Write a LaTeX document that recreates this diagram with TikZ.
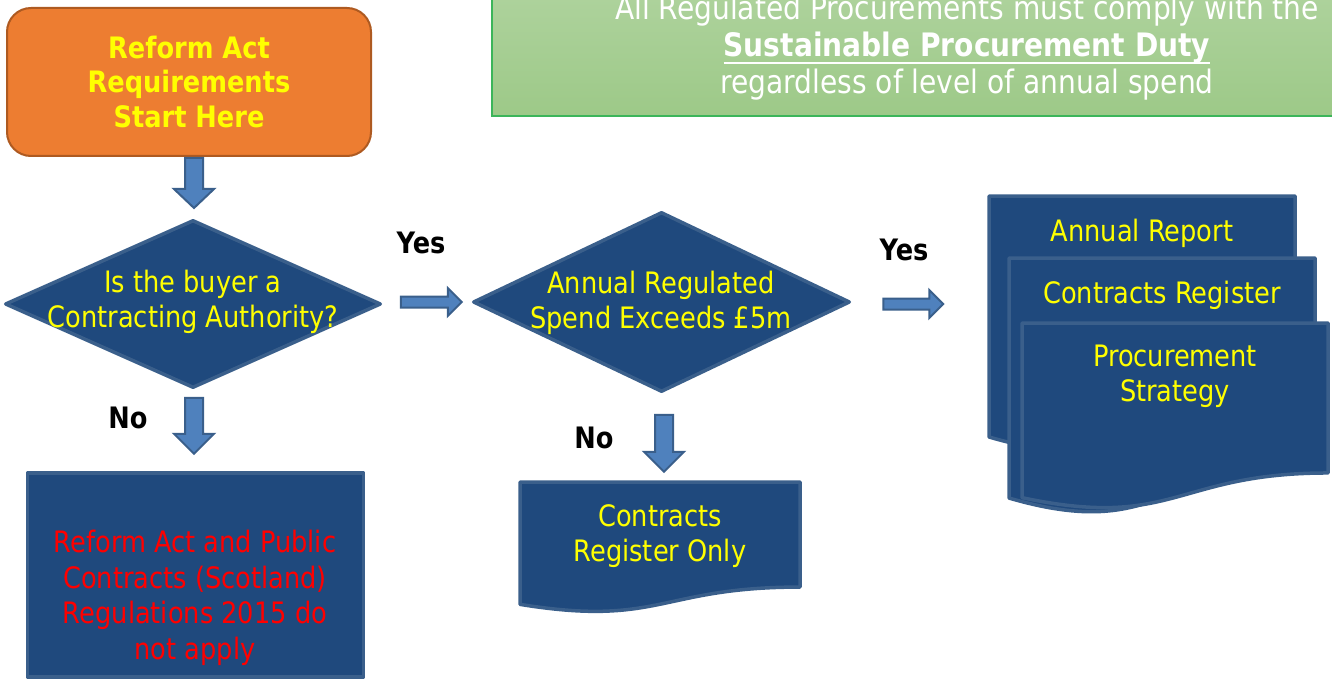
\documentclass[tikz,border=0pt]{standalone}
\usepackage{fontspec}
\setmainfont{DejaVu Sans}[FakeStretch=0.87]
\usetikzlibrary{calc,shapes.geometric}
\definecolor{navy}{HTML}{1F497D}
\definecolor{edgeblue}{HTML}{3A5F8B}
\definecolor{arrowfill}{HTML}{4F81BD}
\definecolor{orangefill}{HTML}{ED7D31}
\definecolor{orangeedge}{HTML}{AE5A21}
\definecolor{greentop}{HTML}{B4D6A4}
\definecolor{greenbot}{HTML}{9DC988}
\definecolor{greenedge}{HTML}{3CB55A}
\definecolor{txtyellow}{HTML}{FFFF00}
\definecolor{txtred}{HTML}{FF0000}
\newcommand\ulx[1]{\setbox0\hbox{#1}\rlap{\rule[-7pt]{\wd0}{2.4pt}}\box0}
\begin{document}
\begin{tikzpicture}[x=1pt,y=-1pt,
  darkshape/.style={fill=navy, draw=edgeblue, line width=3.5pt, line join=round},
  ytext/.style={text=txtyellow, align=center, inner sep=0pt, font=\fontsize{29.5}{35}\selectfont},
  rtext/.style={text=txtred, align=center, inner sep=0pt, font=\fontsize{29.5}{35.5}\selectfont},
  lbl/.style={text=black, inner sep=0pt, font=\bfseries\fontsize{29.5}{35}\selectfont},
  arrowstyle/.style={fill=arrowfill, draw=edgeblue, line width=2pt, line join=miter},
  pics/barrow/.style n args={4}{code={
    \path[arrowstyle] (0,-#2/2) -- (#1-#4,-#2/2) -- (#1-#4,-#3/2) -- (#1,0)
      -- (#1-#4,#3/2) -- (#1-#4,#2/2) -- (0,#2/2) -- cycle;}},
  pics/docshape/.style 2 args={code={
    \path[darkshape] (0,0) -- (#1,0) -- (#1,0.802*#2)
      .. controls (0.5*#1,0.802*#2) and (0.5*#1,1.1075*#2) .. (0,0.934*#2) -- cycle;}}
]
\useasboundingbox (0,0) rectangle (1332,679);
\clip (0,0) rectangle (1332,679);

% green banner
\node[shade, top color=greentop, bottom color=greenbot, draw=greenedge, line width=1.8pt,
      minimum width=860, minimum height=170, inner sep=0, anchor=south west]
      (duty) at (491,117) {};
\node[text=white, align=center, inner sep=0pt, font=\fontsize{32.3}{37}\selectfont]
  (dutyt) at (967,48) {All Regulated Procurements must comply with the\\
  {\bfseries\ulx{Sustainable Procurement Duty}}\\ regardless of level of annual spend};

% start box
\node[rectangle, rounded corners=24pt, fill=orangefill, draw=orangeedge, line width=2pt,
      minimum width=364, minimum height=148, inner sep=0,
      text=txtyellow, align=center, font=\bfseries\fontsize{29.5}{34.5}\selectfont]
  (start) at (189,82) {Reform Act\\Requirements\\Start Here};

% decisions
\node[diamond, darkshape, minimum width=376, minimum height=168, inner sep=0] (q1) at (193,304) {};
\node[ytext] (q1t) at (193,302) {Is the buyer a\\Contracting Authority?};
\node[diamond, darkshape, minimum width=377, minimum height=180, inner sep=0] (q2) at (661.5,302) {};
\node[ytext] (q2t) at (661,303) {Annual Regulated\\Spend Exceeds £5m};

% not-applicable box
\node[rectangle, darkshape, minimum width=336, minimum height=204, inner sep=0] (na) at (195.5,575) {};
\node[rtext] (nat) at (195,598) {Reform Act and Public\\Contracts (Scotland)\\Regulations 2015 do\\not apply};

% contracts register only document
\coordinate (crtl) at (520,482);
\pic at (crtl) {docshape={280}{131}};
\node[ytext] (crt) at (660,536.5) {Contracts\\Register Only};

% multi-document
\coordinate (mback) at (989,196);
\coordinate (mmid) at (1009,258);
\coordinate (mfront) at (1022,323);
\pic at (mback) {docshape={306}{258}};
\pic at (mmid) {docshape={306}{257}};
\pic at (mfront) {docshape={306}{187}};
\node[ytext] (ar) at (1142,233) {Annual Report};
\node[ytext] (cr) at (1162,295) {Contracts Register};
\node[ytext] (ps) at (1175,376) {Procurement\\Strategy};

% block arrows
\pic[rotate=-90] at ($(start.south)+(5,1)$) {barrow={50}{18}{40}{19}};
\pic[rotate=-90] at ($(q1.south)+(1,8)$) {barrow={56}{18}{40}{20}};
\pic[rotate=-90] at ($(q2.south)+(2.5,21)$) {barrow={57}{18}{40}{20}};
\pic at ($(q1.east)+(18,-2)$) {barrow={61}{11}{28}{14}};
\pic at ($(q2.east)+(31.5,2)$) {barrow={60}{11}{28}{14}};

% labels
\node[lbl] (yes1) at (421,243) {Yes};
\node[lbl] (yes2) at (904,250) {Yes};
\node[lbl] (no1) at (128,418) {No};
\node[lbl] (no2) at (594,438) {No};
\end{tikzpicture}
\end{document}
